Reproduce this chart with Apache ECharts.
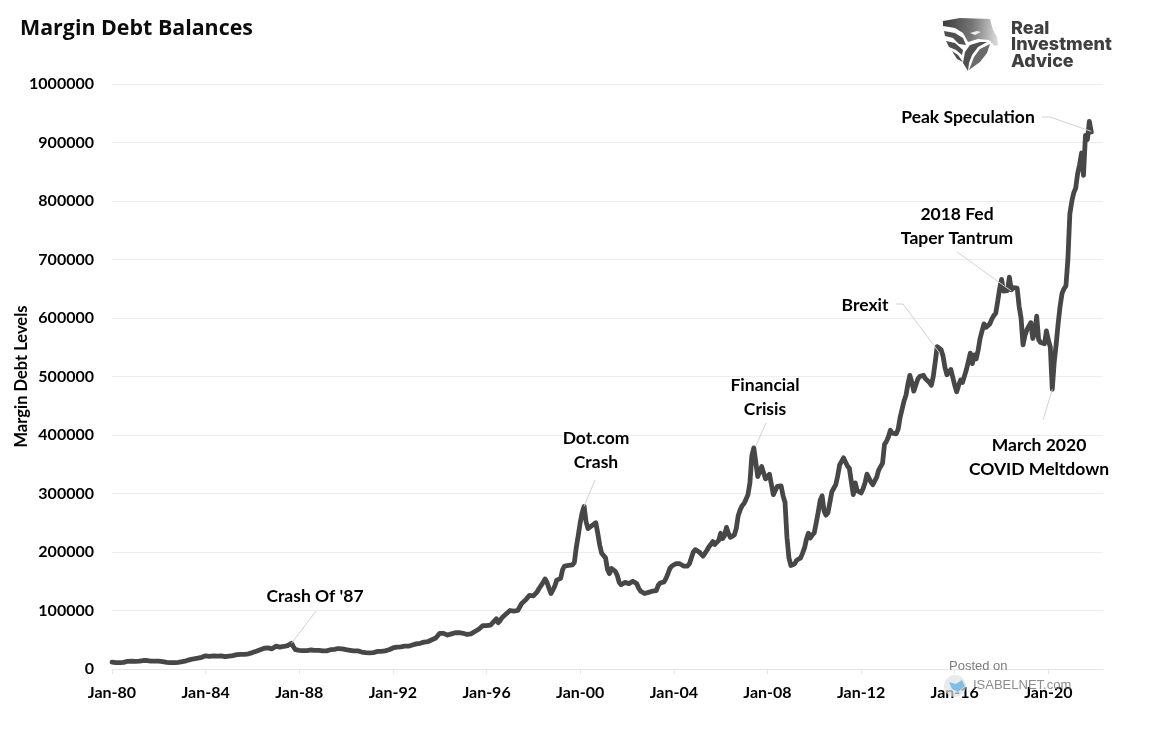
<!DOCTYPE html>
<html>
<head>
<meta charset="utf-8">
<title>Margin Debt Balances</title>
<script src="https://cdn.jsdelivr.net/npm/echarts@6/dist/echarts.min.js"></script>
<style>
html,body{margin:0;padding:0;background:#fff;}
#chart{width:1150px;height:730px;}
</style>
</head>
<body>
<div id="chart"></div>
<script>
//月度数据，单位千
var values1980s=[
    11.6,11.2,10.8,10.6,10.8,11,11.4,12.2,13.2,13.8,13.4,13.8,
    13,12.5,13.5,14,14.5,14.5,14.5,14,13.5,13,13.5,14,
    13.5,13,12.5,12,11.5,11,11,11,11,11.5,11.5,12,
    12.5,13,14,15,16,17,17.5,18,18.5,19.5,20,21.5,
    22.5,22,21.5,21.5,22.5,22.5,22,22.5,22.5,22,21,21.5,
    22,22.5,23,24,24.5,25,25,25,25,25,26,27.5,
    28,29,30.5,32,33,34.5,35.5,35.5,36,35,34.5,36,
    39,38,37.5,38,38.5,39,40,41,44,38,33,32,
    32,32,31.5,31,31.5,32.5,32.5,32,32,32.5,32,32,
    31,31,31,32,33,33,33.5,34,35,35,34.5,34
];
var values1990s=[
    33,32,32,31,31,31,31,30.5,29,28.5,28,28,
    27.5,27,28,29,30,29.5,30,31,31,32,33,34.5,
    36,37,37.5,38,38,39,39,39,39,40,41,42,
    43,44,44,45,46,47,47,48,50,51,53,55,
    61,62,61,59,58,59,60,61,62,62,62,61,
    61,60,59,59,60,62,64,66,68,71,74,75,
    74,73,75,78,82,86,79,83,88,91,94,97,
    100,101,99,98,100,106,112,115,118,122,126,127,
    125,128,132,138,143,148,154,148,138,129,135,142,
    152,153,155,170,176,177,177,178,178,182,208,228
];
var values2000s=[
    250,267,278,252,240,243,245,247,250,232,212,198,
    195,190,170,163,172,172,167,160,148,144,147,148,
    148,146,146,150,150,146,138,133,130,129,130,131,
    132,133,134,134,143,147,149,149,155,163,172,176,
    179,180,180,180,178,176,175,176,180,190,200,204,
    203,200,197,193,198,203,209,213,218,213,214,220,
    232,223,228,242,232,225,226,229,240,262,272,279,
    283,290,298,318,365,378,381,329,331,346,345,325,
    322,333,316,298,298,312,314,313,296,285,225,190,
    177,174,180,186,188,190,198,207,222,232,224,229
];
var values2010s=[
    233,250,268,288,296,270,263,267,285,303,309,315,
    330,349,355,361,354,347,343,320,298,318,305,302,
    301,308,318,333,330,320,315,315,328,340,346,352,
    384,389,397,408,403,400,402,410,430,444,458,468,
    487,502,490,475,476,495,500,500,502,496,493,490,
    485,500,525,551,548,546,535,515,503,505,512,510,
    485,474,485,494,490,488,512,510,540,522,537,530,
    545,565,578,590,584,583,590,598,604,608,628,650,
    666,646,646,647,670,648,652,652,651,620,600,554,
    570,580,577,592,565,575,603,563,558,555,556,578
];
var values2020s=[
    562,550,478,525,555,590,620,642,650,655,700,778,
    799,814,822,847,862,882,844,912,905,936,918
];
var marginDebt=values1980s.concat(values1990s,values2000s,values2010s,values2020s).map(function(v){return v*1000;});

var monthNames=['Jan','Feb','Mar','Apr','May','Jun','Jul','Aug','Sep','Oct','Nov','Dec'];
var categories=[];
for(var m=0;m<=508;m++){
    var yy=(1980+Math.floor(m/12))%100;
    categories.push(monthNames[m%12]+'-'+(yy<10?'0'+yy:yy));
}

var noteLabels=["Crash Of '87","Dot.com\nCrash","Financial\nCrisis","Brexit","2018 Fed\nTaper Tantrum","March 2020\nCOVID Meltdown","Peak Speculation"];
var noteMonths=[92,242,330,424,461,482,502];
var noteValues=[44000,278000,381000,541000,646000,478000,919000];

var labelFont='Lato';
var chart=echarts.init(document.getElementById('chart'));

var option={
    animation:false,
    backgroundColor:'#fff',
    title:{
        text:'Margin Debt Balances',
        left:15,
        top:13,
        textStyle:{fontFamily:'Open Sans',fontWeight:'bold',fontSize:21.4,color:'#0c0c0c'}
    },
    grid:{left:112,right:47,top:84,bottom:61,outerBoundsMode:'none'},
    xAxis:{
        type:'category',
        boundaryGap:false,
        data:categories,
        axisLine:{lineStyle:{color:'#e6e6e6',width:1}},
        axisTick:{interval:47,length:5,lineStyle:{color:'#e6e6e6'}},
        axisLabel:{
            interval:47,
            margin:16,
            fontFamily:labelFont,fontWeight:'bold',fontSize:16,color:'#000'
        },
        splitLine:{show:false}
    },
    yAxis:{
        type:'value',
        min:0,
        max:1000000,
        interval:100000,
        name:'Margin Debt Levels',
        nameLocation:'middle',
        nameGap:90,
        nameMoveOverlap:false,
        nameTextStyle:{fontFamily:labelFont,fontWeight:'bold',fontSize:16.5,color:'#000',verticalAlign:'middle'},
        axisLine:{show:false},
        axisTick:{show:false},
        axisLabel:{
            margin:18,
            formatter:function(v){return String(v);},
            fontFamily:labelFont,fontWeight:'bold',fontSize:16,color:'#000'
        },
        splitLine:{lineStyle:{color:'#ededed',width:1}}
    },
    series:[{
        name:'Margin Debt',
        type:'line',
        data:marginDebt,
        showSymbol:false,
        smooth:false,
        lineStyle:{color:'#474747',width:4.8,join:'round',cap:'round'},
        z:2
    }]
};
chart.setOption(option);

//注释引线，一端接数据点
function noteGraphics(){
    var textSpots=[[315,596],[596,450],[765,397],[865,305],[957,226],[1039,457],[968,117]];
    var leaderStarts=[[[316,611]],[[595,480]],[[766,423]],[[896,304],[903,304]],[[957,252]],[[1043,420]],[[1042,117],[1050,117]]];
    var items=[];
    for(var i=0;i<noteLabels.length;i++){
        var p=chart.convertToPixel({xAxisIndex:0,yAxisIndex:0},[noteMonths[i],noteValues[i]]);
        items.push({
            type:'polyline',
            z:5,
            shape:{points:leaderStarts[i].concat([p])},
            style:{stroke:'#d2d2d2',lineWidth:1,fill:null}
        });
        items.push({
            type:'text',
            z:6,
            style:{
                x:textSpots[i][0],y:textSpots[i][1],
                text:noteLabels[i],
                textAlign:'center',textVerticalAlign:'middle',
                lineHeight:24,
                font:'bold 17.5px Lato',
                fill:'#000'
            }
        });
    }
    return items;
}

//右上角标志
function logoGraphics(){
    var feathers=[
        [[943,21],[960,18],[990,19],[993,30],[997,37],[998,45],[995,46],[989,40],[978,39],[968,42],[963,33],[955,28],[943,26]],
        [[944,31],[955,33],[963,38],[966,45],[959,44],[953,38],[945,36]],
        [[946,41],[955,43],[963,50],[962,55],[956,50],[949,47]],
        [[952,51],[958,55],[963,62],[957,59]],
        [[968,71],[963,63],[965,52],[970,45],[980,42],[987,42],[978,47],[972,55],[969,63]],
        [[969,70],[974,57],[980,49],[990,44],[987,53],[980,62]]
    ];
    var gradient={
        type:'linear',x:0,y:0,x2:1,y2:0.2,
        colorStops:[
            {offset:0,color:'#3c3c3c'},
            {offset:0.55,color:'#777'},
            {offset:1,color:'#d8d8d8'}
        ]
    };
    var items=[];
    for(var i=0;i<feathers.length;i++){
        items.push({type:'polygon',z:7,shape:{points:feathers[i]},style:{fill:i==0?gradient:(i==5?'#6a6a6a':'#505050')}});
    }
    items.push({type:'polygon',z:8,shape:{points:[[970,33],[977,31],[981,32],[975,35]]},style:{fill:'#eee'}});
    items.push({
        type:'text',
        z:8,
        style:{
            x:1011,y:20,
            text:'Real\nInvestment\nAdvice',
            lineHeight:16.7,
            font:'800 18px Inter',
            fill:'#3f3f3f'
        }
    });
    return items;
}

//水印
function watermarkGraphics(){
    return [
        {type:'text',z:9,style:{x:949,y:660,text:'Posted on',font:'13px "Liberation Sans"',fill:'#7d7d7d'}},
        {type:'text',z:9,style:{x:973,y:679,text:'ISABELNET.com',font:'13px "Liberation Sans"',fill:'rgba(120,120,120,0.85)'}},
        {type:'circle',z:9,shape:{cx:955,cy:686,r:11},style:{fill:'rgba(225,225,225,0.7)'}},
        {type:'polygon',z:10,shape:{points:[[949,682],[956,684],[962,680],[965,686],[958,692],[952,689]]},style:{fill:'#7fbfe6'}}
    ];
}

chart.setOption({graphic:{elements:noteGraphics().concat(logoGraphics(),watermarkGraphics())}});
</script>
</body>
</html>
